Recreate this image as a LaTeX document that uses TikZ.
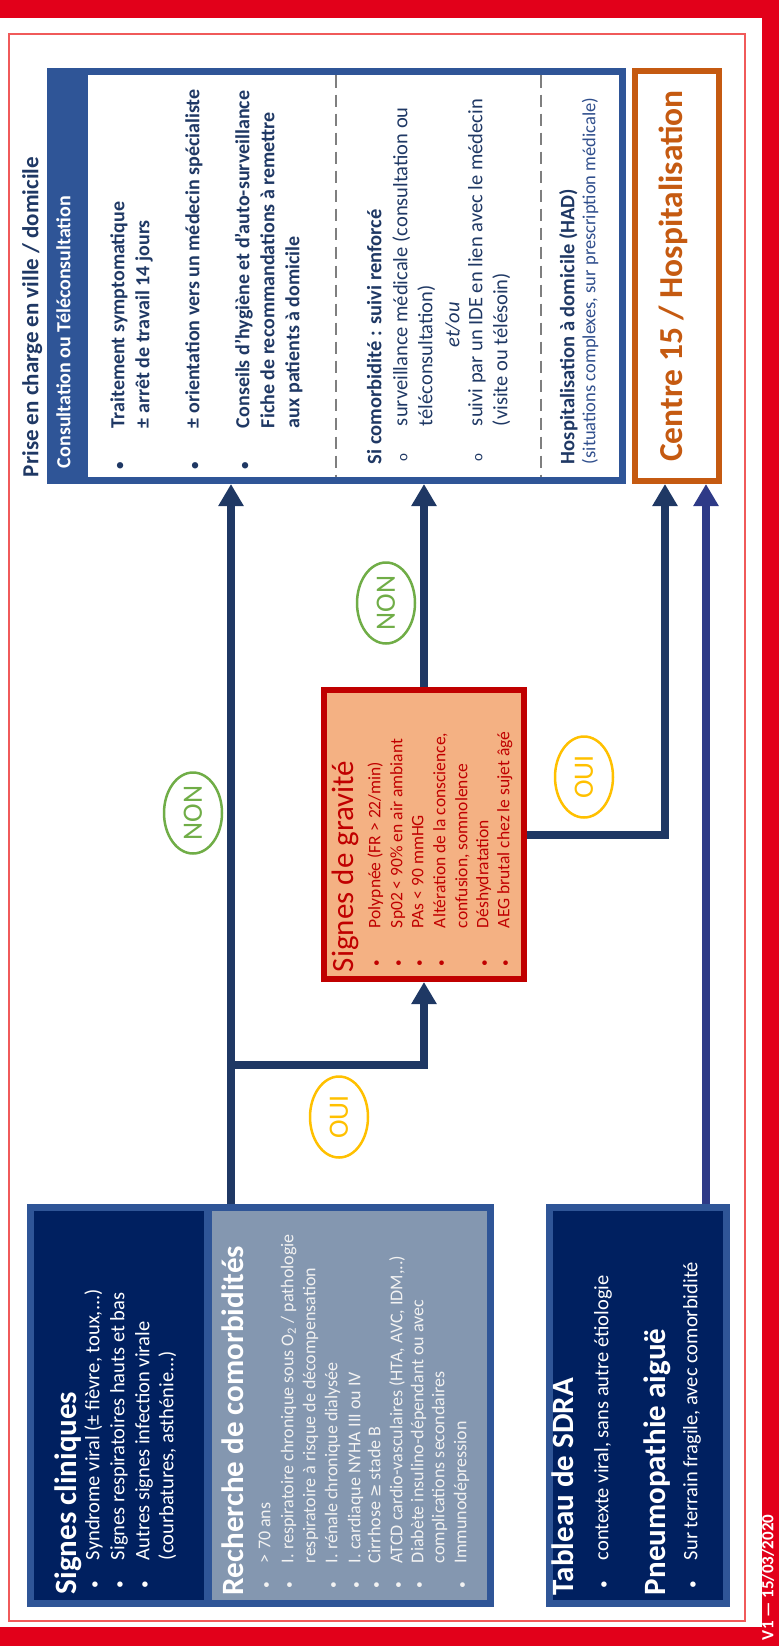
\documentclass[tikz,border=0pt]{standalone}
\usepackage{fontspec}
\setmainfont{Carlito}
\newfontfamily\symfont{DejaVu Sans}
\usetikzlibrary{arrows.meta,shapes.geometric}
\definecolor{frame}{HTML}{E2001A}
\definecolor{thinr}{HTML}{F05A5A}
\definecolor{bl}{HTML}{2F5597}
\definecolor{navy}{HTML}{1F3864}
\definecolor{dnavy}{HTML}{002060}
\definecolor{grayb}{HTML}{8497B0}
\definecolor{orng}{HTML}{C55A11}
\definecolor{gred}{HTML}{C00000}
\definecolor{gfill}{HTML}{F4B183}
\definecolor{arrc}{HTML}{1F3864}
\definecolor{arrd}{HTML}{2E3A87}
\definecolor{nongreen}{HTML}{70AD47}
\definecolor{ouiyel}{HTML}{FFC000}
\definecolor{dashg}{HTML}{7F7F7F}
\definecolor{wtxt}{HTML}{F2F2F2}
\definecolor{subc}{HTML}{2F4E8C}
\newcommand\myfs[1]{\fontsize{#1}{#1}\selectfont}
\newcommand\bul{\scalebox{0.75}{•}}
\tikzset{
  txt/.style={rotate=90, anchor=mid west, inner sep=0pt, outer sep=0pt},
  box/.style={rectangle, inner sep=0pt},
  arr/.style={draw=arrc, line width=8pt, -{Triangle[width=24pt,length=22pt]}},
  tag/.style={ellipse, rotate=90, draw, line width=2.5pt, minimum width=81pt, minimum height=58pt, inner sep=0pt, font=\myfs{28}},
}
\begin{document}
\begin{tikzpicture}[x=1pt,y=-1pt]
\useasboundingbox (0,0) rectangle (779,1646);
% frame
\fill[frame] (0,0) rectangle (779,18);
\fill[frame] (762,0) rectangle (779,1646);
\fill[frame] (0,1627) rectangle (779,1646);
\draw[thinr, line width=1.2pt] (9,34) rectangle (745,1621);
\node[txt, font=\bfseries\myfs{17}, text=white] (ver) at (771,1640) {V1 — 15/03/2020};

% title
\node[txt, font=\bfseries\myfs{23}, text=navy] (titre) at (36,477) {Prise en charge en ville / domicile};

% consultation box
\node[box, fill=bl, minimum width=41pt, minimum height=416pt, anchor=north west] (hdr) at (47,68) {};
\draw[dashg, line width=1.5pt, dash pattern=on 12pt off 7pt] (336,75.5) -- (336,476.5);
\draw[dashg, line width=1.5pt, dash pattern=on 12pt off 7pt] (541,75.5) -- (541,476.5);
\node[box, draw=bl, line width=7pt, outer sep=3.5pt, minimum width=572pt, minimum height=409pt] (consult) at (336.5,276) {};
\node[txt, font=\bfseries\myfs{20}, text=white] (hdrt) at (68,468) {Consultation ou Téléconsultation};

\node[txt, font=\bfseries\myfs{20}, text=navy] (c1) at (122,469) {\makebox[41pt][l]{\bul}Traitement symptomatique};
\node[txt, font=\bfseries\myfs{20}, text=navy] (c2) at (147,428) {± arrêt de travail 14 jours};
\node[txt, font=\bfseries\myfs{20}, text=navy] (c3) at (197,469) {\makebox[41pt][l]{\bul}± orientation vers un médecin spécialiste};
\node[txt, font=\bfseries\myfs{20}, text=navy] (c4) at (247,469) {\makebox[41pt][l]{\bul}Conseils d’hygiène et d’auto-surveillance};
\node[txt, font=\bfseries\myfs{20}, text=navy] (c5) at (272,428) {Fiche de recommandations à remettre};
\node[txt, font=\bfseries\myfs{20}, text=navy] (c6) at (297,428) {aux patients à domicile};

\node[txt, font=\bfseries\myfs{20.5}, text=navy] (d1) at (379,464) {Si comorbidité : suivi renforcé};
\node[txt, font=\myfs{20.5}, text=navy] (d2) at (405,461) {\makebox[35pt][l]{\myfs{15}o}surveillance médicale (consultation ou};
\node[txt, font=\myfs{20.5}, text=navy] (d3) at (430,426) {téléconsultation)};
\node[rotate=90, anchor=mid, inner sep=0pt, font=\itshape\myfs{20.5}, text=navy] (d4) at (457,325) {et/ou};
\node[txt, font=\myfs{20.5}, text=navy] (d5) at (480,461) {\makebox[35pt][l]{\myfs{15}o}suivi par un IDE en lien avec le médecin};
\node[txt, font=\myfs{20.5}, text=navy] (d6) at (505,426) {(visite ou télésoin)};

\node[txt, font=\bfseries\myfs{20.5}, text=navy] (e1) at (572,464) {Hospitalisation à domicile (HAD)};
\node[txt, font=\myfs{18.5}, text=subc] (e2) at (593,464) {(situations complexes, sur prescription médicale)};

% centre 15
\node[box, draw=orng, line width=6pt, outer sep=3pt, minimum width=84pt, minimum height=410pt] (c15) at (677,276) {};
\node[rotate=90, anchor=mid, inner sep=0pt, font=\bfseries\myfs{33.5}, text=orng] (c15t) at (680,276) {Centre 15 / Hospitalisation};

% gravite
\node[box, draw=gred, fill=gfill, line width=6pt, outer sep=3pt, minimum width=200pt, minimum height=289pt] (grav) at (424,834.5) {};
\node[txt, font=\myfs{31}, text=gred] (gt) at (351,972) {Signes de gravité};
\node[txt, font=\myfs{17.5}, text=gred] (g1) at (378,966) {\makebox[38pt][l]{\bul}Polypnée (FR > 22/min)};
\node[txt, font=\myfs{17.5}, text=gred] (g2) at (400,966) {\makebox[38pt][l]{\bul}Sp02 < 90\% en air ambiant};
\node[txt, font=\myfs{17.5}, text=gred] (g3) at (421,966) {\makebox[38pt][l]{\bul}PAs < 90 mmHG};
\node[txt, font=\myfs{17.5}, text=gred] (g4) at (443,966) {\makebox[38pt][l]{\bul}Altération de la conscience,};
\node[txt, font=\myfs{17.5}, text=gred] (g5) at (465,928) {confusion, somnolence};
\node[txt, font=\myfs{17.5}, text=gred] (g6) at (486,966) {\makebox[38pt][l]{\bul}Déshydratation};
\node[txt, font=\myfs{17.5}, text=gred] (g7) at (507,966) {\makebox[38pt][l]{\bul}AEG brutal chez le sujet âgé};

% bottom boxes
\node[box, draw=bl, fill=grayb, line width=7pt, outer sep=3.5pt, minimum width=282pt, minimum height=396pt] (comorb) at (349.5,1405.5) {};
\node[box, draw=bl, fill=dnavy, line width=7pt, outer sep=3.5pt, minimum width=177pt, minimum height=396pt] (signes) at (119,1405.5) {};
\node[box, draw=bl, fill=dnavy, line width=7pt, outer sep=3.5pt, minimum width=177pt, minimum height=396pt] (tableau) at (638,1405.5) {};

\node[txt, font=\bfseries\myfs{31}, text=white] (st) at (74,1594) {Signes cliniques};
\node[txt, font=\myfs{20.5}, text=white] (s1) at (97,1588) {\makebox[28pt][l]{\bul}Syndrome viral (± fièvre, toux,...)};
\node[txt, font=\myfs{20.5}, text=white] (s2) at (122,1588) {\makebox[28pt][l]{\bul}Signes respiratoires hauts et bas};
\node[txt, font=\myfs{20.5}, text=white] (s3) at (147,1588) {\makebox[28pt][l]{\bul}Autres signes infection virale};
\node[txt, font=\myfs{20.5}, text=white] (s4) at (171,1560) {(courbatures, asthénie...)};

\node[txt, font=\bfseries\myfs{31}, text=white] (rt) at (241,1595) {Recherche de comorbidités};
\node[txt, font=\myfs{18}, text=wtxt] (r1) at (268,1588) {\makebox[25pt][l]{\bul}> 70 ans};
\node[txt, font=\myfs{18}, text=wtxt] (r2) at (291,1588) {\makebox[25pt][l]{\bul}I. respiratoire chronique sous O\textsubscript{2} / pathologie};
\node[txt, font=\myfs{18}, text=wtxt] (r3) at (313,1563) {respiratoire à risque de décompensation};
\node[txt, font=\myfs{18}, text=wtxt] (r4) at (335,1588) {\makebox[25pt][l]{\bul}I. rénale chronique dialysée};
\node[txt, font=\myfs{18}, text=wtxt] (r5) at (358,1588) {\makebox[25pt][l]{\bul}I. cardiaque NYHA III ou IV};
\node[txt, font=\myfs{18}, text=wtxt] (r6) at (378,1588) {\makebox[25pt][l]{\bul}Cirrhose {\symfont\myfs{16}≥} stade B};
\node[txt, font=\myfs{18}, text=wtxt] (r7) at (400,1588) {\makebox[25pt][l]{\bul}ATCD cardio-vasculaires (HTA, AVC, IDM,..)};
\node[txt, font=\myfs{18}, text=wtxt] (r8) at (421,1588) {\makebox[25pt][l]{\bul}Diabète insulino-dépendant ou avec};
\node[txt, font=\myfs{18}, text=wtxt] (r9) at (442,1563) {complications secondaires};
\node[txt, font=\myfs{18}, text=wtxt] (r10) at (464,1588) {\makebox[25pt][l]{\bul}Immunodépression};

\node[txt, font=\bfseries\myfs{31}, text=white] (tt) at (571,1595) {Tableau de SDRA};
\node[txt, font=\myfs{20.5}, text=white] (t1) at (606,1588) {\makebox[28pt][l]{\bul}contexte viral, sans autre étiologie};
\node[txt, font=\bfseries\myfs{31}, text=white] (pt) at (663,1595) {Pneumopathie aiguë};
\node[txt, font=\myfs{20.5}, text=white] (p1) at (695,1588) {\makebox[28pt][l]{\bul}Sur terrain fragile, avec comorbidité};

% connectors
\coordinate (xa) at (231,0);
\coordinate (brk) at (231,1065);
\coordinate (xb) at (424,1065);
\coordinate (xc) at (665,0);
\coordinate (xd) at (706,0);
\draw[arr] (comorb.north -| xa) -- (consult.south -| xa);
\draw[arr] (brk) -- (xb) -- (grav.south);
\draw[arr] (grav.north) -- (consult.south -| grav.north);
\draw[arr] (grav.east) -- (grav.east -| xc) -- (c15.south -| xc);
\draw[arr, draw=arrd] (tableau.north -| xd) -- (c15.south -| xd);

% labels
\node[tag, draw=nongreen, text=nongreen] (non1) at (193,813) {NON};
\node[tag, draw=nongreen, text=nongreen] (non2) at (386,603) {NON};
\node[tag, draw=ouiyel, text=ouiyel] (oui1) at (339,1117) {OUI};
\node[tag, draw=ouiyel, text=ouiyel] (oui2) at (584,777) {OUI};
\end{tikzpicture}
\end{document}
